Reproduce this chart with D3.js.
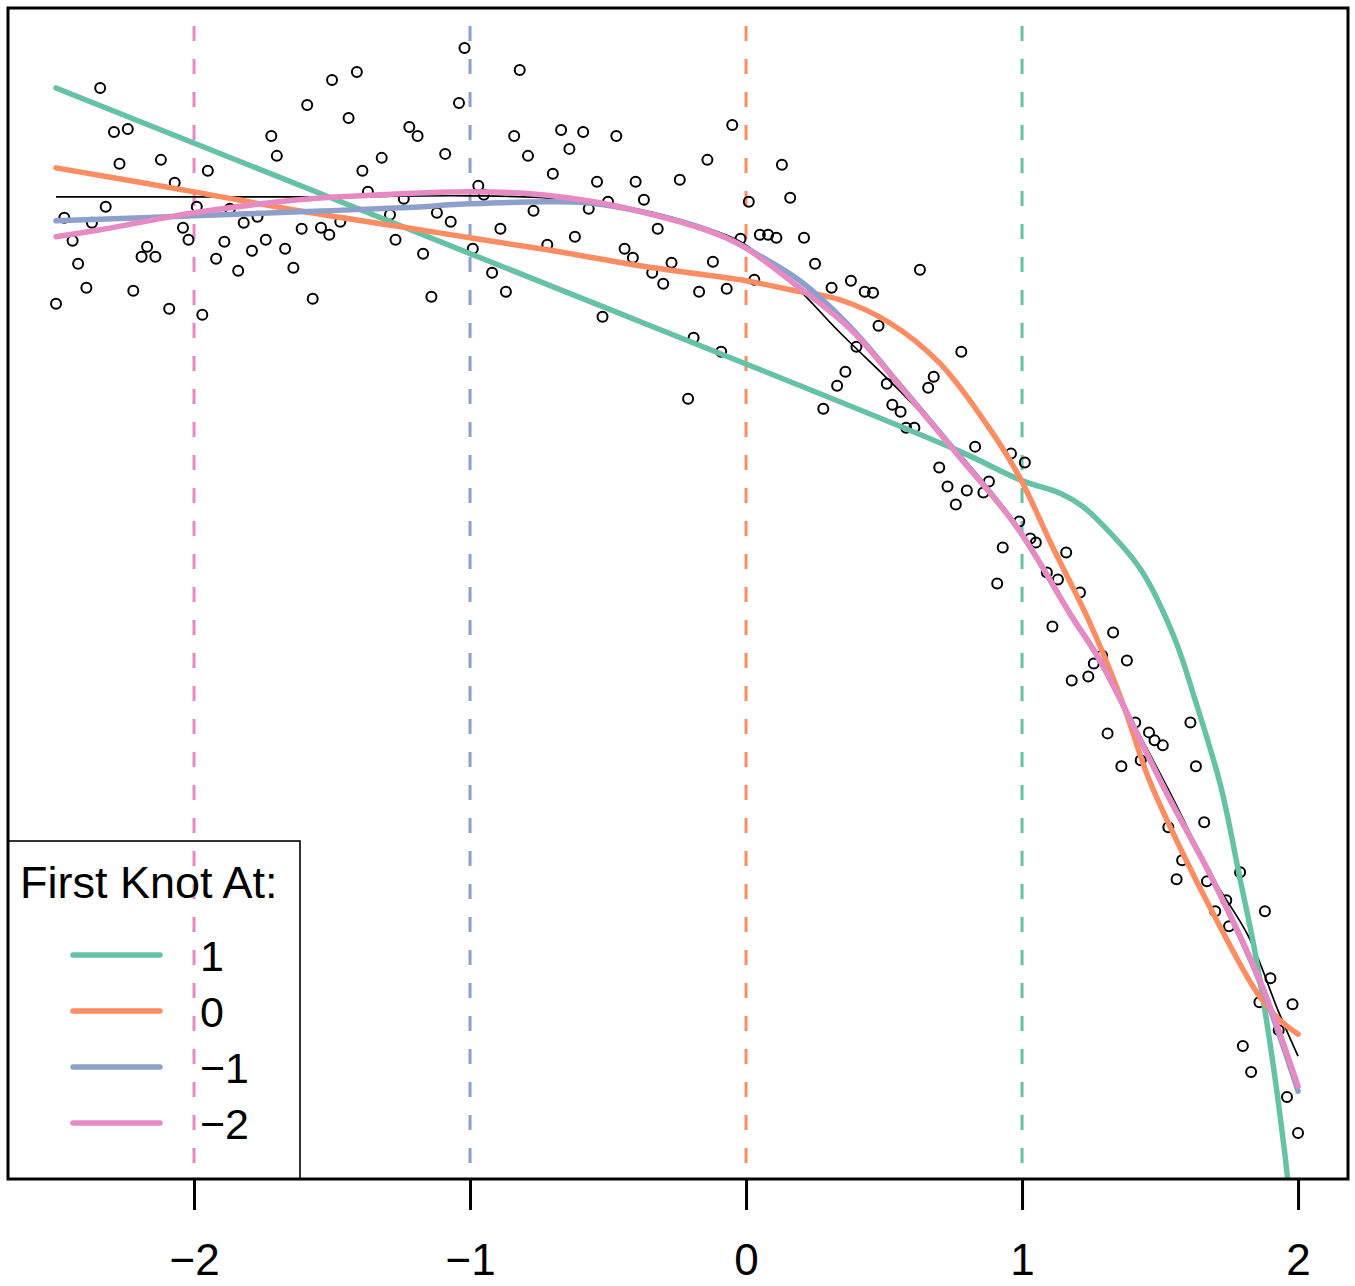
<!DOCTYPE html>
<html>
<head>
<meta charset="utf-8">
<script src="https://cdn.jsdelivr.net/npm/d3@7"></script>
<style>
  body { margin: 0; background: #fff; }
  svg { display: block; font-family: "Liberation Sans", Arial, Helvetica, sans-serif; }
</style>
</head>
<body>
<svg width="1355" height="1286"></svg>
<script>
// observed points
var obsX = [
  -2.34, -2.29, -2.24, -2.27, -2.12, -2.07, -1.95, -2.32, -2.47, -2.37,
  -2.44, -2.42, -2.39, -2.50, -2.22, -2.19, -2.17, -2.14, -2.09, -2.04,
  -2.02, -1.99, -1.97, -1.87, -1.82, -1.89, -1.92, -1.84, -1.79, -1.77,
  -1.74, -1.72, -1.70, -1.67, -1.64, -1.61, -1.59, -1.57, -1.54, -1.51,
  -1.50, -1.47, -1.44, -1.41, -1.39, -1.37, -1.32, -1.29, -1.27, -1.24,
  -1.02, -0.82, -1.04, -1.22, -1.19, -1.09, -0.84, -0.67, -0.59, -0.64,
  -0.47, -0.79, -0.70, -0.54, -0.40, -0.24, -0.14, -0.05, -0.97, -0.95,
  -1.12, -1.07, -0.77, -0.57, -0.50, -0.37, 0.01, -1.17, -0.89, -0.62,
  -0.99, -0.72, -0.44, -0.41, -0.32, -0.27, -0.34, -0.30, -0.12, -0.02,
  0.03, -0.17, -0.07, -1.14, -0.92, -0.87, -0.52,
  0.13, 0.16, 0.05, 0.08, 0.11, 0.21, 0.25, 0.31, 0.38, 0.43,
  0.46, 0.63, 0.48, 0.40, 0.78, 0.36, 0.33, 0.51, 0.68, 0.66,
  0.53, 0.56, 0.58, 0.61, -0.21, 0.28, -0.19, -0.09,
  0.83, 0.96, 1.01, 0.70, 0.73, 0.80, 0.86, 0.88, 0.76, 0.99,
  1.03, 1.05, 0.93, 1.16, 0.91, 1.09, 1.13, 1.21,
  1.11, 1.33, 1.29, 1.26, 1.38, 1.24, 1.18, 1.61, 1.41, 1.31,
  1.46, 1.48, 1.51, 1.43, 1.36, 1.63,
  1.53, 1.66, 1.58, 1.56, 1.79, 1.67, 1.74, 1.70, 1.75, 1.88,
  1.90, 1.86, 1.98, 1.93, 1.80, 1.83, 1.96, 2.00
];
var obsY = [
  1.06, 0.84, 0.855, 0.68, 0.70, 0.585, 0.645, 0.465, 0.41, 0.385,
  0.295, 0.18, 0.06, -0.02, 0.045, 0.215, 0.265, 0.215, -0.045, 0.36,
  0.30, 0.465, -0.075, 0.455, 0.385, 0.29, 0.205, 0.145, 0.245, 0.415,
  0.30, 0.82, 0.72, 0.255, 0.16, 0.355, 0.975, 0.005, 0.36, 0.325,
  1.10, 0.39, 0.91, 1.14, 0.645, 0.54, 0.71, 0.425, 0.30, 0.505,
  1.26, 1.15, 0.985, 0.865, 0.82, 0.73, 0.82, 0.85, 0.84, 0.755,
  0.82, 0.72, 0.63, 0.59, 0.59, 0.60, 0.70, 0.875, 0.57, 0.525,
  0.435, 0.39, 0.445, 0.455, 0.49, 0.50, 0.49, 0.23, 0.355, 0.315,
  0.255, 0.275, 0.255, 0.21, 0.355, 0.185, 0.135, 0.08, 0.19, 0.305,
  0.10, 0.04, 0.055, 0.015, 0.135, 0.04, -0.085,
  0.675, 0.51, 0.325, 0.325, 0.31, 0.31, 0.18, 0.06, 0.095, 0.04,
  0.035, 0.15, -0.13, -0.235, -0.26, -0.36, -0.43, -0.42, -0.385, -0.44,
  -0.525, -0.56, -0.64, -0.64, -0.495, -0.545, -0.19, -0.26,
  -0.735, -0.77, -0.815, -0.84, -0.935, -0.955, -0.965, -0.91, -1.025, -1.11,
  -1.195, -1.215, -1.24, -1.265, -1.42, -1.365, -1.40, -1.465,
  -1.635, -1.665, -1.78, -1.82, -1.805, -1.885, -1.905, -2.115, -2.115, -2.17,
  -2.165, -2.205, -2.23, -2.305, -2.335, -2.335,
  -2.64, -2.615, -2.805, -2.90, -2.865, -2.91, -3.005, -3.06, -3.135, -3.06,
  -3.395, -3.515, -3.525, -3.655, -3.735, -3.865, -3.99, -4.17
];

// true function (thin black line)
var trueCurve = [[-2.50, 0.515], [-2.00, 0.515], [-1.51, 0.515], [-1.00, 0.52], [-0.67, 0.505],
  [-0.38, 0.45], [-0.17, 0.37], [-0.02, 0.29], [0.17, 0.08], [0.33, -0.15], [0.56, -0.46],
  [0.76, -0.75], [0.98, -1.125], [1.18, -1.585], [1.28, -1.81], [1.53, -2.45], [1.69, -2.89],
  [1.82, -3.185], [1.93, -3.565], [2.00, -3.785]];

// fitted splines, by position of the first knot
var fitKnot1 = [[-2.50, 1.06], [-0.89, 0.17], [0.76, -0.75], [1.00, -0.905], [1.14, -0.97],
  [1.22, -1.035], [1.28, -1.11], [1.43, -1.35], [1.55, -1.685], [1.63, -2.015], [1.72, -2.435],
  [1.79, -2.90], [1.84, -3.235], [1.90, -3.735], [1.95, -4.25], [1.97, -4.50]];
var fitKnot0 = [[-2.50, 0.66], [-2.00, 0.54], [-1.62, 0.445], [-1.25, 0.365], [-1.00, 0.31],
  [-0.72, 0.25], [-0.36, 0.165], [0.00, 0.095], [0.16, 0.05], [0.34, 0.00], [0.52, -0.115],
  [0.70, -0.315], [0.88, -0.64], [0.99, -0.885], [1.11, -1.235], [1.24, -1.60], [1.36, -2.00],
  [1.46, -2.40], [1.57, -2.735], [1.69, -3.065], [1.85, -3.465], [1.93, -3.60], [2.00, -3.675]];
var fitKnotM1 = [[-2.50, 0.395], [-2.00, 0.42], [-1.62, 0.44], [-1.25, 0.46], [-1.00, 0.48],
  [-0.72, 0.49], [-0.58, 0.485], [-0.36, 0.435], [-0.12, 0.34], [0.05, 0.22], [0.20, 0.09],
  [0.38, -0.14], [0.56, -0.43], [0.76, -0.76], [0.98, -1.135], [1.18, -1.585], [1.28, -1.80],
  [1.53, -2.485], [1.69, -2.90], [1.86, -3.41], [2.00, -3.96]];
var fitKnotM2 = [[-2.50, 0.315], [-2.34, 0.35], [-2.00, 0.435], [-1.62, 0.50], [-1.25, 0.53],
  [-1.00, 0.54], [-0.78, 0.53], [-0.53, 0.485], [-0.38, 0.44], [-0.17, 0.36], [-0.02, 0.275],
  [0.17, 0.085], [0.38, -0.15], [0.56, -0.435], [0.76, -0.765], [0.98, -1.135], [1.18, -1.585],
  [1.28, -1.80], [1.53, -2.485], [1.69, -2.90], [1.86, -3.40], [2.00, -3.935]];

var knots = [1, 0, -1, -2];
var legendLabels = ["1", "0", "\u22121", "\u22122"];
var xTicks = [-2, -1, 0, 1, 2];

var colors = { "1": "#66c2a5", "0": "#fc8d62", "-1": "#8da0cb", "-2": "#e78ac3" };
var fits = { "1": fitKnot1, "0": fitKnot0, "-1": fitKnotM1, "-2": fitKnotM2 };

var svg = d3.select("svg");
var box = { left: 8, top: 8, right: 1348, bottom: 1179 };

var x = d3.scaleLinear().domain([-2.674, 2.181]).range([box.left, box.right]);
var y = d3.scaleLinear().domain([-4.4, 1.46]).range([box.bottom, box.top]);

svg.append("clipPath").attr("id", "plotclip")
  .append("rect")
  .attr("x", box.left).attr("y", box.top)
  .attr("width", box.right - box.left).attr("height", box.bottom - box.top);

var plot = svg.append("g").attr("clip-path", "url(#plotclip)");

// dashed knot lines
plot.selectAll(".knot")
  .data(knots)
  .enter().append("line")
  .attr("x1", function (d) { return x(d); })
  .attr("x2", function (d) { return x(d); })
  .attr("y1", box.top)
  .attr("y2", box.bottom)
  .attr("stroke", function (d) { return colors[d]; })
  .attr("stroke-width", 3)
  .attr("stroke-dasharray", "15,18")
  .attr("stroke-dashoffset", 15);

// points
plot.selectAll(".pt")
  .data(d3.zip(obsX, obsY))
  .enter().append("circle")
  .attr("cx", function (d) { return x(d[0]); })
  .attr("cy", function (d) { return y(d[1]); })
  .attr("r", 5)
  .attr("fill", "none")
  .attr("stroke", "#000")
  .attr("stroke-width", 2);

var line = d3.line()
  .x(function (d) { return x(d[0]); })
  .y(function (d) { return y(d[1]); })
  .curve(d3.curveCatmullRom.alpha(0.5));

plot.append("path")
  .attr("d", line(trueCurve))
  .attr("fill", "none")
  .attr("stroke", "#000")
  .attr("stroke-width", 1.7);

knots.forEach(function (k) {
  plot.append("path")
    .attr("d", line(fits[k]))
    .attr("fill", "none")
    .attr("stroke", colors[k])
    .attr("stroke-width", 5.5)
    .attr("stroke-linecap", "round");
});

// x axis, R style ticks below the box
var axis = svg.append("g")
  .attr("transform", "translate(0," + box.bottom + ")")
  .call(d3.axisBottom(x).tickValues(xTicks).tickFormat(d3.format("d")).tickSize(31).tickPadding(34));
axis.select(".domain").remove();
axis.selectAll(".tick line").attr("stroke", "#000").attr("stroke-width", 3);
axis.selectAll(".tick text")
  .attr("fill", "#000")
  .style("font-family", "'Liberation Sans', Arial, sans-serif")
  .style("font-size", "44px");

// frame
svg.append("rect")
  .attr("x", box.left).attr("y", box.top)
  .attr("width", box.right - box.left).attr("height", box.bottom - box.top)
  .attr("fill", "none")
  .attr("stroke", "#000")
  .attr("stroke-width", 3);

// legend
var legend = svg.append("g");
legend.append("rect")
  .attr("x", box.left).attr("y", 841)
  .attr("width", 300 - box.left).attr("height", box.bottom - 841)
  .attr("fill", "none")
  .attr("stroke", "#000")
  .attr("stroke-width", 1.6);
legend.append("text")
  .attr("x", 20).attr("y", 898)
  .style("font-size", "45px")
  .text("First Knot At:");

var rows = legend.selectAll(".row")
  .data(knots)
  .enter().append("g")
  .attr("transform", function (d, i) { return "translate(0," + (955 + i * 56) + ")"; });
rows.append("line")
  .attr("x1", 73).attr("x2", 160)
  .attr("stroke", function (d) { return colors[d]; })
  .attr("stroke-width", 5.5)
  .attr("stroke-linecap", "round");
rows.append("text")
  .attr("x", 200).attr("y", 16)
  .style("font-size", "43px")
  .text(function (d, i) { return legendLabels[i]; });
</script>
</body>
</html>
